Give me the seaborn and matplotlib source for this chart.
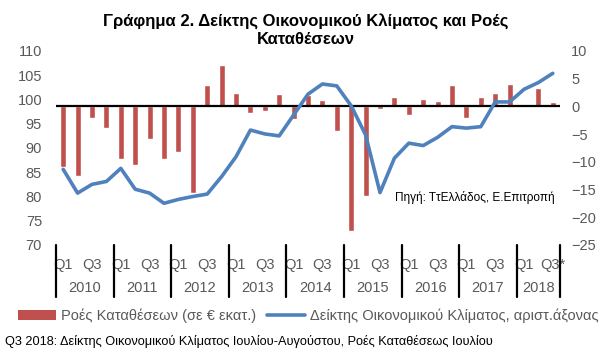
import numpy as np
import pandas as pd
import seaborn as sns
import matplotlib.pyplot as plt
from matplotlib.patches import Patch
from matplotlib.lines import Line2D

# Quarterly data, Q1 2010 - Q3 2018
years = [2010, 2011, 2012, 2013, 2014, 2015, 2016, 2017, 2018]
quarters_per_year = [4, 4, 4, 4, 4, 4, 4, 4, 3]
quarter_names = ["Q1", "Q2", "Q3", "Q4"]

# Deposit flows (EUR mn), right axis
flows = [-11.0, -12.5, -2.0, -3.9,
         -9.5, -10.6, -5.8, -9.5,
         -8.2, -15.6, 3.9, 7.5,
         2.4, -1.2, -0.9, 2.2,
         -2.2, 2.0, 1.1, -4.4,
         -22.5, -16.1, -0.4, 1.7,
         -1.6, 1.3, 0.9, 3.9,
         -2.0, 1.7, 2.4, 4.0,
         0.0, 3.3, 0.8]

# Economic sentiment indicator, left axis
esi = [85.6, 80.7, 82.5, 83.1,
       85.8, 81.5, 80.7, 78.6,
       79.4, 80.0, 80.5, 84.1,
       88.2, 93.7, 92.9, 92.5,
       96.8, 101.1, 103.2, 102.8,
       98.7, 92.7, 80.8, 87.9,
       91.0, 90.5, 92.2, 94.4,
       94.1, 94.4, 99.5, 99.5,
       102.1, 103.5, 105.4]

periods, tick_labels = [], []
for y, n in zip(years, quarters_per_year):
    for q in range(n):
        periods.append(f"{quarter_names[q]} {y}")
        tick_labels.append(quarter_names[q] if q % 2 == 0 else "")
tick_labels[-1] = tick_labels[-1] + "*"

df = pd.DataFrame({"pos": np.arange(len(periods)), "period": periods,
                   "flows": flows, "esi": esi})

sns.set_theme(style="white")
plt.rcParams['font.family'] = ['Liberation Sans', 'DejaVu Sans']

GREY = "#595959"
RED = "#C0504D"
BLUE = "#4F81BD"

fig = plt.figure(figsize=(6.08, 3.6), dpi=100)
ax = fig.add_axes([56 / 608, 1 - 245 / 360, 504 / 608, 194 / 360])
ax2 = ax.twinx()

# bars on the right-hand axis
sns.barplot(data=df, x="pos", y="flows", color=RED, saturation=1,
            width=0.42, ax=ax)
ax.axhline(0, color="black", lw=1.6, zorder=3)
ax.set_ylim(-25, 10)
ax.set_yticks(np.arange(-25, 11, 5))
ax.yaxis.tick_right()
ax.set_xlim(-0.5, len(periods) - 0.5)
ax.set_xticks(df["pos"])
ax.set_xticklabels(tick_labels)
ax.tick_params(axis="x", length=0, pad=9, labelsize=10.5, labelcolor=GREY)
ax.tick_params(axis="y", length=0, pad=8, labelsize=10.5, labelcolor=GREY)
ax.set_xlabel("")
ax.set_ylabel("")

# line on the left-hand axis
sns.lineplot(data=df, x="pos", y="esi", color=BLUE, lw=2.6, ax=ax2)
ax2.set_ylim(70, 110)
ax2.set_yticks(np.arange(70, 111, 5))
ax2.yaxis.tick_left()
ax2.tick_params(axis="y", length=0, pad=10, labelsize=10.5, labelcolor=GREY)
ax2.set_ylabel("")

for a in (ax, ax2):
    for s in a.spines.values():
        s.set_visible(False)

# year labels and year separators below the axis
bounds = np.concatenate([[0], np.cumsum(quarters_per_year)]) - 0.5
trans = ax.get_xaxis_transform()
for b in bounds:
    ax.plot([b, b], [0, -0.27], color="black", lw=1.6, transform=trans,
            clip_on=False)
for y, lo, hi in zip(years, bounds[:-1], bounds[1:]):
    ax.text((lo + hi) / 2, -0.222, str(y), transform=trans, ha="center",
            va="center", fontsize=10.5, color=GREY)

fig.text(0.503, 1 - 30 / 360,
         "Γράφημα 2. Δείκτης Οικονομικού Κλίματος και Ροές\nΚαταθέσεων",
         ha="center", va="center", fontsize=12, fontweight="bold",
         linespacing=1.2, color="black")

fig.text(395 / 608, 1 - 197 / 360, "Πηγή: ΤτΕλλάδος, Ε.Επιτροπή",
         ha="left", va="center", fontsize=8.5, color="black")

handles = [Patch(facecolor=RED, edgecolor="none"),
           Line2D([0], [0], color=BLUE, lw=2.6)]
fig.legend(handles, ["Ροές Καταθέσεων (σε € εκατ.)",
                     "Δείκτης Οικονομικού Κλίματος, αριστ.άξονας"],
           loc="center", bbox_to_anchor=(0.507, 1 - 316 / 360), ncol=2,
           frameon=False, fontsize=10.5, handlelength=2.6, handleheight=0.6,
           handletextpad=0.3, columnspacing=0.8, labelcolor=GREY)

fig.text(5 / 608, 1 - 342 / 360,
         "Q3 2018: Δείκτης Οικονομικού Κλίματος Ιουλίου-Αυγούστου, "
         "Ροές Καταθέσεως Ιουλίου",
         ha="left", va="center", fontsize=9.2, color="black")

fig.savefig("out.png", dpi=100)
